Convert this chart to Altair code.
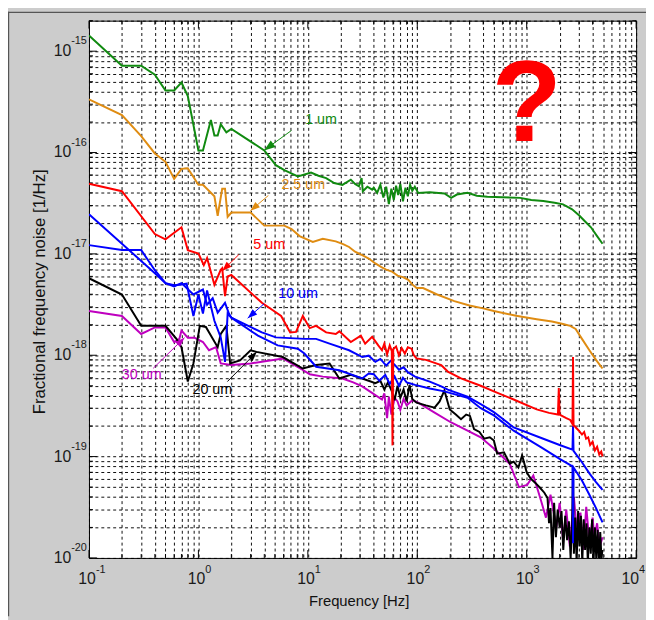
import math
import altair as alt
import pandas as pd

W, H = 554, 544
X_DOMAIN = [0.1, 1e4]
Y_DOMAIN = [1e-20, 2e-15]
FONT = "Liberation Sans"

C_GREEN = "#108a10"
C_ORANGE = "#df8c12"
C_RED = "#ff0000"
C_BLUE = "#0000ff"
C_BLACK = "#000000"
C_MAGENTA = "#bf00bf"

# ---------------- series data ----------------
green_f = [0.1, 0.2, 0.3, 0.4, 0.5, 0.6, 0.7, 0.8,
           1.0, 1.1, 1.3, 1.4, 1.5, 1.6, 1.8, 2.0,
           4.0, 5.1, 6.1, 8.1, 10.7, 12.5, 14.7, 17.4, 20.7, 24.7,
           27, 29.3, 31, 31.8, 35, 38.7, 40, 43, 46, 49,
           52, 55, 58, 61, 64, 67, 70, 74, 78, 82,
           86, 90, 95, 102, 130, 177, 204, 230, 288, 350,
           437, 600, 873, 1100, 1418, 1800, 2149, 2600, 3040, 3400,
           3866, 4300, 4930]
green_n = [1.43e-15, 7.2e-16, 7.2e-16, 5.85e-16, 4.1e-16, 4.1e-16, 4.9e-16, 3.6e-16,
           1.05e-16, 1.05e-16, 2.09e-16, 1.47e-16, 1.47e-16, 1.9e-16, 1.58e-16, 1.71e-16,
           1.05e-16, 7.5e-17, 6.7e-17, 5.8e-17, 6.35e-17, 5.9e-17, 5.6e-17, 5.0e-17, 4.8e-17, 5.4e-17,
           4.9e-17, 4.65e-17, 5.6e-17, 4.15e-17, 4.6e-17, 4.3e-17, 4.5e-17, 4.0e-17, 4.8e-17, 3.6e-17,
           4.6e-17, 3.1e-17, 4.4e-17, 3.4e-17, 4.7e-17, 3.8e-17, 4.9e-17, 3.3e-17, 4.5e-17, 3.7e-17,
           4.8e-17, 4.2e-17, 4.6e-17, 4.0e-17, 4.05e-17, 3.94e-17, 3.57e-17, 3.85e-17, 4.0e-17, 3.75e-17,
           3.66e-17, 3.62e-17, 3.57e-17, 3.4e-17, 3.32e-17, 3.2e-17, 3.08e-17, 2.75e-17, 2.38e-17, 2.1e-17,
           1.83e-17, 1.55e-17, 1.26e-17]

orange_f = [0.1, 0.2, 0.3, 0.4, 0.5, 0.6, 0.7, 0.8, 1.0, 1.1,
            1.4, 1.5, 1.65, 1.75, 1.85, 2.0, 3.0, 4.0, 6.1, 7.1,
            8.4, 11.1, 13.7, 18, 21, 23.8, 27, 31.4, 36, 41.4,
            47, 52, 58.6, 66, 74, 82.8, 90, 98.5, 113, 150,
            218, 300, 400, 501, 800, 1233, 1700, 2149, 2500, 2800,
            3200, 3740, 4300, 4930]
orange_n = [3.34e-16, 2.34e-16, 1.45e-16, 9.8e-17, 8.1e-17, 5.5e-17, 6.9e-17, 7.0e-17, 4.8e-17, 4.8e-17,
            3.7e-17, 2.38e-17, 4.4e-17, 4.4e-17, 2.32e-17, 2.56e-17, 2.56e-17, 1.9e-17, 1.9e-17, 1.76e-17,
            1.5e-17, 1.31e-17, 1.41e-17, 1.33e-17, 1.25e-17, 1.17e-17, 1.05e-17, 9.7e-18, 9.0e-18, 8.05e-18,
            7.4e-18, 7.0e-18, 6.7e-18, 6.1e-18, 5.9e-18, 5.55e-18, 5.0e-18, 4.6e-18, 4.6e-18, 4.0e-18,
            3.42e-18, 3.1e-18, 2.9e-18, 2.73e-18, 2.45e-18, 2.27e-18, 2.15e-18, 2.03e-18, 1.95e-18, 1.82e-18,
            1.45e-18, 1.12e-18, 9.0e-19, 7.4e-19]

red_f = [0.1, 0.2, 0.4, 0.5, 0.7, 0.8, 1.0, 1.12, 1.2, 1.4,
         1.6, 1.65, 1.75, 1.85, 2.0, 3.8, 5.7, 6.9, 7.8, 9.0,
         10.4, 11.9, 14.7, 18, 19.4, 24.7, 30.5, 33.4, 38.7, 44,
         47.6, 50, 53, 56, 58.5, 59.4, 60.3, 64, 68, 72,
         77, 82, 88.6, 93, 98.5, 120, 165.6, 190, 251, 380,
         501, 760, 1233, 1600, 1930, 1965, 2000, 2300, 2500, 2620,
         2650, 2680, 3000, 3200, 3350, 3490, 3650, 3800, 4000, 4200,
         4400, 4600, 4800, 4930]
red_n = [4.92e-17, 4.15e-17, 1.57e-17, 1.39e-17, 1.83e-17, 1.09e-17, 1.01e-17, 7.76e-18, 9.1e-18, 4.97e-18,
         6.95e-18, 7.2e-18, 3.83e-18, 5.98e-18, 6.2e-18, 3.29e-18, 2.44e-18, 1.68e-18, 1.7e-18, 2.44e-18,
         1.85e-18, 1.95e-18, 1.68e-18, 1.62e-18, 1.72e-18, 1.35e-18, 1.56e-18, 1.3e-18, 1.52e-18, 1.25e-18,
         1.12e-18, 1.3e-18, 1.02e-18, 1.25e-18, 1.1e-18, 1.29e-19, 1.15e-18, 1.22e-18, 1.0e-18, 1.18e-18,
         1.04e-18, 1.2e-18, 1.16e-18, 1.0e-18, 9.3e-19, 9.0e-19, 8.0e-19, 6.9e-19, 5.9e-19, 5.0e-19,
         4.4e-19, 3.66e-19, 2.92e-19, 2.7e-19, 2.6e-19, 4.75e-19, 2.6e-19, 2.4e-19, 2.3e-19, 2.1e-19,
         9.6e-19, 2.05e-19, 1.8e-19, 1.65e-19, 1.75e-19, 1.5e-19, 1.55e-19, 1.3e-19, 1.4e-19, 1.15e-19,
         1.25e-19, 1.05e-19, 1.12e-19, 1.0e-19]

blue1_f = [0.1, 0.4, 0.5, 0.6, 0.7, 0.9, 1.1, 1.2, 1.35, 1.5,
           1.75, 1.9, 2.0, 2.86, 3.8, 5.1, 9.3, 11.9, 15.8, 23.8,
           31.4, 36, 41.4, 46, 52, 57, 62.6, 68, 75, 82,
           95.4, 130, 165.6, 190, 288, 380, 501, 760, 1418, 2000,
           2620, 2650, 2680, 3200, 3740, 4300, 4930]
blue1_n = [2.46e-17, 6.45e-18, 5.15e-18, 4.78e-18, 5.15e-18, 3.98e-18, 4.45e-18, 3.15e-18, 3.65e-18, 2.63e-18,
           3.29e-18, 2.58e-18, 2.35e-18, 1.95e-18, 1.68e-18, 1.5e-18, 1.45e-18, 1.45e-18, 1.3e-18, 1.12e-18,
           9.6e-19, 9.9e-19, 8.6e-19, 9.2e-19, 7.9e-19, 8.8e-19, 8.0e-19, 7.2e-19, 7.6e-19, 6.8e-19,
           6.15e-19, 5.5e-19, 4.93e-19, 4.57e-19, 3.9e-19, 3.3e-19, 2.75e-19, 1.94e-19, 1.5e-19, 1.3e-19,
           1.17e-19, 2.0e-19, 1.14e-19, 8.8e-20, 6.84e-20, 5.6e-20, 4.7e-20]

blue2_f = [0.1, 0.2, 0.3, 0.4, 0.5, 0.6, 0.7, 0.78, 0.9, 1.0,
           1.1, 1.2, 1.4, 1.6, 1.75, 1.85, 2.0, 3.5, 5.3, 8.1,
           9.3, 11.9, 19.4, 31.4, 36, 40, 45, 51, 56, 62,
           68, 74, 80, 85, 95.4, 130, 177, 288, 380, 501,
           760, 1418, 2000, 2620, 2650, 2680, 3200, 3740, 4300, 4930]
blue2_n = [1.22e-17, 1.09e-17, 1.09e-17, 6.9e-18, 5.15e-18, 4.9e-18, 5.0e-18, 5.1e-18, 2.44e-18, 3.98e-18,
           2.58e-18, 4.35e-18, 2.19e-18, 1.5e-18, 8.6e-19, 2.58e-18, 2.35e-18, 1.56e-18, 1.25e-18, 1.16e-18,
           1.04e-18, 7.7e-19, 7.1e-19, 5.9e-19, 6.6e-19, 6.5e-19, 5.6e-19, 6.4e-19, 5.2e-19, 6.2e-19,
           5.0e-19, 6.0e-19, 5.4e-19, 5.3e-19, 5.1e-19, 4.7e-19, 4.4e-19, 3.8e-19, 3.0e-19, 2.55e-19,
           1.8e-19, 1.2e-19, 9.5e-20, 8.0e-20, 1.4e-20, 7.8e-20, 5.8e-20, 4.2e-20, 3.1e-20, 2.24e-20]

black_f = [0.1, 0.2, 0.3, 0.4, 0.5, 0.63, 0.7, 0.8, 0.9, 1.03,
           1.17, 1.5, 1.6, 1.8, 1.95, 2.4, 3.0, 3.4, 5.9, 9.0,
           11.9, 15.8, 19.4, 24.7, 31.4, 41.4, 46, 50, 54, 58.6,
           62, 66, 70, 75, 80, 85, 90, 98.5, 120, 144,
           160, 177, 198, 225, 251, 280, 303, 330, 370, 409,
           460, 501, 537, 620, 700, 760, 840, 908, 1000, 1083,
           1200, 1330, 1450,
           1550, 1600, 1650, 1720, 1780, 1850, 1920, 2000, 2080, 2160,
           2250, 2340, 2430, 2520, 2600, 2650, 2700, 2780, 2860, 2950,
           3040, 3130, 3220, 3320, 3420, 3520, 3620, 3740, 3850, 3960,
           4080, 4200, 4320, 4450, 4580, 4700, 4820, 4930]
black_n = [5.75e-18, 3.97e-18, 1.95e-18, 1.95e-18, 1.95e-18, 1.45e-18, 1.2e-18, 5.5e-19, 8.3e-19, 1.95e-18,
           1.9e-18, 1.2e-18, 1.62e-18, 1.95e-18, 8.3e-19, 8.9e-19, 1.12e-18, 1.08e-18, 9.6e-19, 7.4e-19,
           8.0e-19, 8.3e-19, 5.9e-19, 6.4e-19, 5.9e-19, 5.3e-19, 5.6e-19, 4.6e-19, 5.4e-19, 4.4e-19,
           3.6e-19, 5.0e-19, 3.8e-19, 4.6e-19, 3.5e-19, 5.1e-19, 3.7e-19, 3.4e-19, 3.2e-19, 3.04e-19,
           3.5e-19, 4.5e-19, 2.92e-19, 2.6e-19, 2.34e-19, 2.6e-19, 2.52e-19, 1.87e-19, 1.75e-19, 1.5e-19,
           1.55e-19, 1.44e-19, 1.07e-19, 1.1e-19, 8.5e-20, 8.9e-20, 7.8e-20, 1.03e-19, 7.0e-20, 6.1e-20,
           5.5e-20, 4.9e-20, 4.4e-20,
           3.9e-20, 2.2e-20, 3.1e-20, 1.0e-20, 3.5e-20, 1.6e-20, 3.0e-20, 2.0e-20, 2.9e-20, 1.2e-20,
           2.6e-20, 1.5e-20, 2.3e-20, 1.0e-20, 2.2e-20, 7.5e-20, 1.1e-20, 2.5e-20, 9e-21, 2.9e-20,
           1.3e-20, 2.6e-20, 9e-21, 2.4e-20, 1.2e-20, 2.2e-20, 9e-21, 2.0e-20, 1.1e-20, 2.4e-20,
           9e-21, 2.0e-20, 1.0e-20, 1.9e-20, 8e-21, 1.8e-20, 1.0e-20, 1.2e-20]

magenta_f = [0.1, 0.2, 0.3, 0.4, 0.5, 0.6, 0.67, 0.7, 0.8, 0.92,
             1.1, 1.25, 1.45, 1.6, 2.0, 3.0, 5.9, 9.0, 10.4, 13.7,
             20.7, 26, 31.4, 38, 47.6, 50, 53, 55, 58, 62,
             66, 70, 75, 80, 90, 102, 144, 204, 288, 380,
             501, 700, 850, 1010, 1150, 1330, 1500, 1650, 1865, 2000,
             2150, 2300, 2480, 2700, 2900, 3100, 3300, 3500, 3750, 4000,
             4150, 4400, 4650, 4930]
magenta_n = [2.73e-18, 2.44e-18, 1.62e-18, 1.88e-18, 1.88e-18, 1.35e-18, 1.45e-18, 1.75e-18, 1.49e-18, 1.49e-18,
             1.35e-18, 1.12e-18, 1.2e-18, 8.3e-19, 8.0e-19, 8.3e-19, 9.3e-19, 7.15e-19, 6.5e-19, 6.15e-19,
             5.9e-19, 5.4e-19, 4.93e-19, 4.3e-19, 3.66e-19, 4.2e-19, 2.4e-19, 3.9e-19, 2.6e-19, 3.8e-19,
             3.5e-19, 2.9e-19, 3.7e-19, 3.2e-19, 3.6e-19, 3.4e-19, 2.72e-19, 2.17e-19, 1.8e-19, 1.55e-19,
             1.2e-19, 8.5e-20, 5.0e-20, 5.26e-20, 6.5e-20, 3.9e-20, 2.5e-20, 4.2e-20, 2.0e-20, 3.5e-20,
             1.5e-20, 3.0e-20, 1.3e-20, 4.0e-20, 1.6e-20, 2.8e-20, 1.2e-20, 3.2e-20, 1.4e-20, 2.5e-20,
             1.6e-20, 2.2e-20, 1.3e-20, 1.6e-20]

# ---------------- annotations ----------------
label_text = ["1 um", "2.5 um", "5 um", "10 um", "20 um", "30 um"]
label_f = [13.2, 9.08, 4.44, 8.15, 1.34, 0.303]
label_n = [2.09e-16, 4.79e-17, 1.23e-17, 4.03e-18, 4.57e-19, 6.39e-19]
label_color = [C_GREEN, C_ORANGE, C_RED, C_BLUE, C_BLACK, C_MAGENTA]

arrow_f0 = [7.08, 4.36, 2.34, 3.98, 1.84, 0.386]
arrow_n0 = [1.65e-16, 3.77e-17, 9.84e-18, 3.22e-18, 5.5e-19, 7.43e-19]
arrow_f1 = [3.98, 2.98, 1.65, 2.82, 3.42, 0.746]
arrow_n1 = [1.05e-16, 2.66e-17, 6.79e-18, 2.32e-18, 1.08e-18, 1.49e-18]
arrow_head = [520, 380, 380, 380, 380, 380]

qmark_text = ["?"]
qmark_f = [1000]
qmark_n = [1.31e-16]

x_tick_major = [0.1, 1, 10, 100, 1000, 10000]
x_tick_exp = ["-1", "0", "1", "2", "3", "4"]
x_tick_shift = [7, 7, 7, 7, 7, 3]
y_tick_major = [1e-20, 1e-19, 1e-18, 1e-17, 1e-16, 1e-15]
y_tick_exp = ["-20", "-19", "-18", "-17", "-16", "-15"]

x_grid = [round(m * 10.0 ** k, 6) for k in range(-1, 4) for m in range(1, 10)] + [1e4]
y_grid = [m * 10.0 ** k for k in range(-20, -15) for m in range(1, 10)] + [1e-15, 2e-15]
x_minor = [v for v in x_grid if v not in x_tick_major]
y_minor = [v for v in y_grid if not any(abs(v / t - 1) < 1e-9 for t in y_tick_major)]

# ---------------- scales / axes ----------------
xscale = alt.Scale(type="log", domain=X_DOMAIN, nice=False)
yscale = alt.Scale(type="log", domain=Y_DOMAIN, nice=False)

xaxis = alt.Axis(values=x_grid, grid=True, gridColor="#000000", gridOpacity=0.95,
                 gridDash=[3, 3], gridWidth=1, labels=False, ticks=False, domain=False,
                 title="Frequency [Hz]", titleFont=FONT, titleFontSize=15,
                 titleFontWeight="normal", titleColor="#111111",
                 titleX=273, titleY=43, titleAlign="center", titleBaseline="middle")
yaxis = alt.Axis(values=y_grid, grid=True, gridColor="#000000", gridOpacity=0.95,
                 gridDash=[3, 3], gridWidth=1, labels=False, ticks=False, domain=False,
                 title="Fractional frequency noise [1/Hz]", titleFont=FONT, titleFontSize=17,
                 titleFontWeight="normal", titleColor="#111111", titleAngle=270,
                 titleX=-50, titleY=274, titleAlign="center", titleBaseline="middle")


def X(field):
    return alt.X(field, type="quantitative", scale=xscale, axis=xaxis)


def Y(field):
    return alt.Y(field, type="quantitative", scale=yscale, axis=yaxis)


def px(f):
    lo, hi = math.log10(X_DOMAIN[0]), math.log10(X_DOMAIN[1])
    return (math.log10(f) - lo) / (hi - lo) * W


def py(n):
    lo, hi = math.log10(Y_DOMAIN[0]), math.log10(Y_DOMAIN[1])
    return (hi - math.log10(n)) / (hi - lo) * H


layers = []

# inward tick marks
for vals, ln in ((x_tick_major, 8), (x_minor, 4)):
    d = pd.DataFrame({"v": vals})
    layers.append(alt.Chart(d).mark_rule(color="#000000", strokeWidth=1).encode(
        x=X("v"), y=alt.value(H), y2=alt.value(H - ln)))
    layers.append(alt.Chart(d).mark_rule(color="#000000", strokeWidth=1).encode(
        x=X("v"), y=alt.value(0), y2=alt.value(ln)))
for vals, ln in ((y_tick_major, 8), (y_minor, 4)):
    d = pd.DataFrame({"v": vals})
    layers.append(alt.Chart(d).mark_rule(color="#000000", strokeWidth=1).encode(
        y=Y("v"), x=alt.value(0), x2=alt.value(ln)))
    layers.append(alt.Chart(d).mark_rule(color="#000000", strokeWidth=1).encode(
        y=Y("v"), x=alt.value(W), x2=alt.value(W - ln)))

# series lines
series = [
    (green_f, green_n, C_GREEN),
    (orange_f, orange_n, C_ORANGE),
    (magenta_f, magenta_n, C_MAGENTA),
    (black_f, black_n, C_BLACK),
    (blue2_f, blue2_n, C_BLUE),
    (blue1_f, blue1_n, C_BLUE),
    (red_f, red_n, C_RED),
]
for f, n, c in series:
    d = pd.DataFrame({"f": f, "n": n})
    layers.append(alt.Chart(d).mark_line(color=c, strokeWidth=2, clip=True).encode(
        x=X("f"), y=Y("n")))

# annotation labels
lab_df = pd.DataFrame({"t": label_text, "f": label_f, "n": label_n, "c": label_color})
layers.append(alt.Chart(lab_df).mark_text(font=FONT, fontSize=14.5, align="center",
                                          baseline="middle").encode(
    x=X("f"), y=Y("n"), text="t:N", color=alt.Color("c:N", scale=None)))

# arrows
angles = []
for f0, n0, f1, n1 in zip(arrow_f0, arrow_n0, arrow_f1, arrow_n1):
    dx = px(f1) - px(f0)
    dy = py(n1) - py(n0)
    angles.append(math.degrees(math.atan2(dx, -dy)) % 360)
arr_df = pd.DataFrame({"f0": arrow_f0, "n0": arrow_n0, "f1": arrow_f1, "n1": arrow_n1,
                       "c": label_color, "a": angles, "s": arrow_head})
layers.append(alt.Chart(arr_df).mark_rule(strokeWidth=1).encode(
    x=X("f0"), y=Y("n0"), x2="f1", y2="n1", color=alt.Color("c:N", scale=None)))
layers.append(alt.Chart(arr_df).mark_point(shape="M0,0L-0.36,1L0.36,1Z", filled=True,
                                           opacity=1).encode(
    x=X("f1"), y=Y("n1"), angle=alt.Angle("a:Q", scale=None),
    size=alt.Size("s:Q", scale=None), color=alt.Color("c:N", scale=None)))

# big question mark
q_df = pd.DataFrame({"t": qmark_text, "f": qmark_f, "n": qmark_n})
layers.append(alt.Chart(q_df).mark_text(font=FONT, fontSize=116, fontWeight="bold",
                                        color="#ff0000", align="center",
                                        baseline="alphabetic").encode(
    x=X("f"), y=Y("n"), text="t:N"))

# tick labels (10 with superscript exponent)
for i, (v, e, s) in enumerate(zip(x_tick_major, x_tick_exp, x_tick_shift)):
    d = pd.DataFrame({"v": [v], "e": [e]})
    layers.append(alt.Chart(d).mark_text(font=FONT, fontSize=16, align="right", dx=s,
                                         baseline="middle", color="#1a1a1a").encode(
        x=X("v"), y=alt.value(H + 21), text=alt.value("10")))
    layers.append(alt.Chart(d).mark_text(font=FONT, fontSize=11, align="left", dx=s,
                                         baseline="middle", color="#1a1a1a").encode(
        x=X("v"), y=alt.value(H + 12), text="e:N"))
yl = pd.DataFrame({"v": y_tick_major, "e": y_tick_exp})
layers.append(alt.Chart(yl).mark_text(font=FONT, fontSize=16, align="right",
                                      baseline="middle", color="#1a1a1a").encode(
    y=Y("v"), x=alt.value(-18), text=alt.value("10")))
layers.append(alt.Chart(yl).mark_text(font=FONT, fontSize=11, align="left", dy=-10,
                                      baseline="middle", color="#1a1a1a").encode(
    y=Y("v"), x=alt.value(-18), text="e:N"))

# figure frame (left and top edge)
frame = pd.DataFrame({"k": [0]})
layers.append(alt.Chart(frame).mark_rule(color="#555555", strokeWidth=1.2).encode(
    x=alt.value(-81.4), y=alt.value(-9), y2=alt.value(H + 59)))
layers.append(alt.Chart(frame).mark_rule(color="#555555", strokeWidth=1.2).encode(
    x=alt.value(-82), x2=alt.value(W + 10), y=alt.value(-8.4)))

chart = alt.layer(*layers).properties(
    width=W, height=H, background="#cccccc",
    padding={"left": 82, "top": 9, "right": 10, "bottom": 59},
    autosize=alt.AutoSizeParams(type="none"),
).configure_view(stroke="#000000", strokeWidth=1, fill="#ffffff")

chart.save("out.html", embed_options={"renderer": "svg", "actions": False})
